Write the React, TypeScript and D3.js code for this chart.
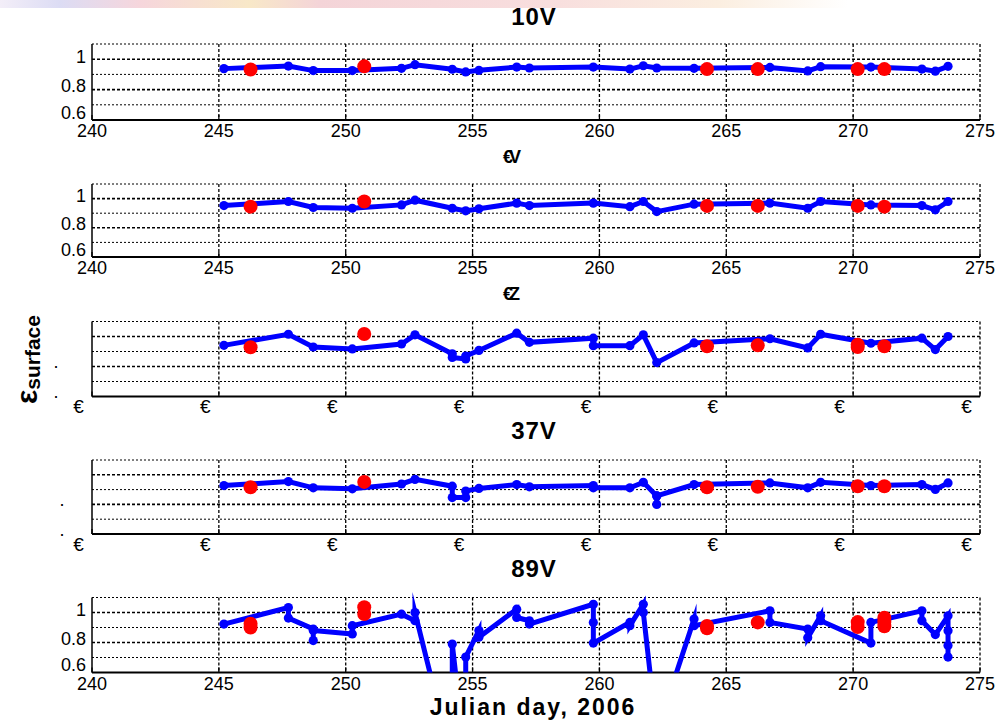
import { useEffect, useRef } from 'react';
import { scaleLinear, select, line } from 'd3';

const W = 998;
const H = 724;

// shared axes
const xTicks = [240, 245, 250, 255, 260, 265, 270, 275];
const yMajor = [0.6, 0.8, 1.0];
const yMinor = [0.7, 0.9, 1.1];
const yTickLabels = ['0.6', '0.8', '1'];

// 10V
const days10V = [245.2, 247.74, 248.72, 250.26, 252.2, 252.73, 254.2, 254.73, 255.25, 256.74, 257.24, 259.76, 261.2, 261.73, 262.26, 263.73, 266.72, 268.21, 268.72, 270.7, 272.71, 273.24, 273.74];
const vals10V = [0.938, 0.955, 0.925, 0.925, 0.94, 0.964, 0.934, 0.916, 0.927, 0.948, 0.942, 0.948, 0.935, 0.957, 0.942, 0.94, 0.946, 0.923, 0.951, 0.948, 0.935, 0.921, 0.953];
const redDays10V = [246.25, 250.73, 264.24, 266.24, 270.18, 271.23];
const redVals10V = [0.932, 0.953, 0.935, 0.935, 0.935, 0.935];

// second panel
const days2 = days10V;
const vals2 = [0.952, 0.98, 0.939, 0.934, 0.957, 0.989, 0.934, 0.916, 0.93, 0.969, 0.952, 0.969, 0.945, 0.98, 0.911, 0.962, 0.969, 0.934, 0.98, 0.957, 0.952, 0.923, 0.98];
const redDays2 = [246.25, 250.73, 264.24, 266.24, 270.18, 271.23];
const redVals2 = [0.945, 0.98, 0.95, 0.95, 0.95, 0.945];

// third panel
const days3 = [245.2, 247.74, 248.72, 250.26, 252.2, 252.73, 254.2, 254.2, 254.73, 254.73, 255.25, 256.74, 257.24, 259.76, 259.76, 261.2, 261.73, 262.26, 263.73, 266.72, 268.21, 268.72, 270.7, 272.71, 273.24, 273.74];
const vals3 = [0.941, 1.015, 0.93, 0.917, 0.95, 1.011, 0.885, 0.86, 0.85, 0.87, 0.907, 1.022, 0.961, 0.989, 0.939, 0.939, 1.011, 0.826, 0.957, 0.985, 0.924, 1.015, 0.955, 0.989, 0.913, 1.0];
const redDays3 = [246.25, 250.73, 264.24, 266.24, 270.18, 270.18, 271.23];
const redVals3 = [0.928, 1.017, 0.935, 0.941, 0.945, 0.93, 0.935];

// 37V
const days37V = [245.2, 247.74, 248.72, 250.26, 252.2, 252.73, 254.2, 254.2, 254.73, 254.73, 255.25, 256.74, 257.24, 259.76, 259.76, 261.2, 261.73, 262.26, 262.26, 262.26, 263.73, 266.72, 268.21, 268.72, 270.7, 272.71, 273.24, 273.74];
const vals37V = [0.927, 0.954, 0.912, 0.905, 0.938, 0.969, 0.923, 0.846, 0.846, 0.89, 0.908, 0.934, 0.919, 0.927, 0.912, 0.912, 0.949, 0.857, 0.8, 0.857, 0.934, 0.945, 0.912, 0.949, 0.927, 0.934, 0.901, 0.945];
const redDays37V = [246.25, 250.73, 264.24, 266.24, 270.18, 271.23];
const redVals37V = [0.916, 0.952, 0.916, 0.919, 0.923, 0.923];

// 89V
const days89V = [245.2, 247.74, 247.74, 248.72, 248.72, 248.72, 250.26, 250.26, 252.2, 252.73, 252.73, 254.2, 254.2, 254.73, 254.73, 255.25, 255.25, 256.74, 256.74, 257.24, 257.24, 259.76, 259.76, 259.76, 261.2, 261.2, 261.73, 261.73, 262.26, 263.73, 263.73, 266.72, 266.72, 268.21, 268.21, 268.72, 268.72, 270.7, 270.7, 272.71, 272.71, 273.24, 273.74, 273.74, 273.74, 273.74];
const vals89V = [0.923, 1.033, 0.963, 0.89, 0.813, 0.88, 0.857, 0.912, 0.989, 0.945, 1.0, 0.0, 0.79, 0.0, 0.703, 0.88, 0.835, 1.022, 0.967, 0.945, 0.923, 1.055, 0.934, 0.796, 0.934, 0.912, 1.055, 1.0, 0.2, 0.956, 0.912, 1.011, 0.934, 0.89, 0.831, 0.978, 0.945, 0.796, 0.934, 1.011, 0.945, 0.853, 0.978, 0.879, 0.78, 0.703];
const redDays89V = [246.25, 246.25, 250.73, 250.73, 264.24, 264.24, 266.24, 270.18, 270.18, 271.23, 271.23, 271.23];
const redVals89V = [0.925, 0.9, 1.035, 0.99, 0.91, 0.895, 0.934, 0.936, 0.903, 0.965, 0.936, 0.908];

const titles = ['10V', '€V', '€Z', '37V', '89V'];

const App = () => {
  const svgRef = useRef<SVGSVGElement>(null);

  useEffect(() => {
    const svg = select(svgRef.current);
    svg.selectAll('*').remove();
    const font = 'Liberation Sans, Arial, Helvetica, sans-serif';

    // faint coloured strip at the very top of the image
    const defs = svg.append('defs');
    const grad = defs.append('linearGradient').attr('id', 'topstrip');
    [['0', '#f3eef8'], ['0.06', '#dcdcf4'], ['0.14', '#f6d6dc'], ['0.25', '#f8e8c8'], ['0.32', '#f4d4d8'], ['0.55', '#f8dede'], ['0.72', '#fbeee0'], ['0.85', '#ffffff'], ['1', '#ffffff']]
      .forEach(([o, c]) => grad.append('stop').attr('offset', o).attr('stop-color', c));
    svg.append('rect').attr('x', 0).attr('y', 0).attr('width', W).attr('height', 8).attr('fill', 'url(#topstrip)');

    const x = scaleLinear().domain([240, 275]).range([92, 980]);

    const panels = [
      { top: 44, bottom: 120, days: days10V, vals: vals10V, rd: redDays10V, rv: redVals10V, numeric: true, dotX: 0 },
      { top: 184, bottom: 257, days: days2, vals: vals2, rd: redDays2, rv: redVals2, numeric: true, dotX: 0 },
      { top: 321.5, bottom: 396.5, days: days3, vals: vals3, rd: redDays3, rv: redVals3, numeric: false, dotX: 56 },
      { top: 460, bottom: 534, days: days37V, vals: vals37V, rd: redDays37V, rv: redVals37V, numeric: false, dotX: 62 },
      { top: 597.5, bottom: 672.5, days: days89V, vals: vals89V, rd: redDays89V, rv: redVals89V, numeric: true, dotX: 0 },
    ];
    // baseline offsets of the y tick labels (0.6 sits a little higher, like the original)
    const yLabelShift = [-1.5, 2.5, 3.5];

    panels.forEach((p, i) => {
      const y = scaleLinear().domain([0.6, 1.1]).range([p.bottom, p.top]);
      const g = svg.append('g');

      // grid
      g.selectAll('.minor').data(yMinor).enter().append('line')
        .attr('x1', x(240)).attr('x2', x(275)).attr('y1', d => y(d)).attr('y2', d => y(d))
        .attr('stroke', '#000').attr('stroke-width', 1).attr('stroke-dasharray', '2,2');
      g.selectAll('.major').data(yMajor.slice(1)).enter().append('line')
        .attr('x1', x(240)).attr('x2', x(275)).attr('y1', d => y(d)).attr('y2', d => y(d))
        .attr('stroke', '#000').attr('stroke-width', 1.6).attr('stroke-dasharray', '3,2');
      g.selectAll('.vgrid').data(xTicks.slice(1)).enter().append('line')
        .attr('x1', d => x(d)).attr('x2', d => x(d)).attr('y1', y(1.1)).attr('y2', y(0.6))
        .attr('stroke', '#000').attr('stroke-width', 1.3).attr('stroke-dasharray', '3,2');

      // axes
      g.append('line').attr('x1', x(240)).attr('x2', x(240)).attr('y1', y(1.1)).attr('y2', y(0.6))
        .attr('stroke', '#000').attr('stroke-width', 1.5);
      g.append('line').attr('x1', x(240)).attr('x2', x(275)).attr('y1', y(0.6)).attr('y2', y(0.6))
        .attr('stroke', '#000').attr('stroke-width', 2);
      g.selectAll('.xtick').data(xTicks).enter().append('line')
        .attr('x1', d => x(d)).attr('x2', d => x(d)).attr('y1', y(0.6)).attr('y2', y(0.6) - 5)
        .attr('stroke', '#000').attr('stroke-width', 1.3);

      // tick labels
      if (p.numeric) {
        g.selectAll('.xl').data(xTicks).enter().append('text')
          .attr('x', d => x(d)).attr('y', p.bottom + 17)
          .attr('text-anchor', 'middle').attr('font-family', font).attr('font-size', 18)
          .text(d => String(d));
        g.selectAll('.yl').data(yMajor).enter().append('text')
          .attr('x', 86).attr('y', (d, j) => y(d) + yLabelShift[j])
          .attr('text-anchor', 'end').attr('font-family', font).attr('font-size', 18)
          .text((d, j) => yTickLabels[j]);
      } else {
        g.selectAll('.xl').data(xTicks).enter().append('text')
          .attr('x', d => x(d) - 13.5).attr('y', p.bottom + 16.5)
          .attr('text-anchor', 'middle').attr('font-family', font).attr('font-size', 19)
          .text('€');
        g.selectAll('.yl').data([0.8, 0.6]).enter().append('text')
          .attr('x', p.dotX).attr('y', d => y(d) + 1.5)
          .attr('text-anchor', 'middle').attr('font-family', font).attr('font-size', 18)
          .text('.');
      }

      // data
      const clipId = `clip${i}`;
      defs.append('clipPath').attr('id', clipId).append('rect')
        .attr('x', x(240)).attr('y', p.top - 16).attr('width', x(275) - x(240)).attr('height', p.bottom - p.top + 16);

      const pts = p.days.map((d, j) => [d, p.vals[j]] as [number, number]);
      const path = line<[number, number]>().x(d => x(d[0])).y(d => y(d[1]));
      g.append('path').attr('d', path(pts)).attr('clip-path', `url(#${clipId})`)
        .attr('fill', 'none').attr('stroke', '#0000ff').attr('stroke-width', 5)
        .attr('stroke-linejoin', 'miter').attr('stroke-miterlimit', 10);
      g.selectAll('.bm').data(pts.filter(d => d[1] >= 0.6 && d[1] <= 1.1)).enter().append('circle')
        .attr('cx', d => x(d[0])).attr('cy', d => y(d[1])).attr('r', 4.6).attr('fill', '#0000ff');

      g.selectAll('.rm').data(p.rd.map((d, j) => [d, p.rv[j]])).enter().append('circle')
        .attr('cx', d => x(d[0])).attr('cy', d => y(d[1])).attr('r', 7).attr('fill', '#ff0000');
    });

    // titles (panels 2 and 3 carry the garbled glyphs of the original figure)
    const titleY = [25, 163, 300, 439, 577];
    titles.forEach((t, i) => {
      const garbled = t.startsWith('€');
      svg.append('text')
        .attr('x', garbled ? 503 : 534).attr('y', titleY[i])
        .attr('text-anchor', garbled ? 'start' : 'middle')
        .attr('font-family', font).attr('font-size', garbled ? 18 : 24).attr('font-weight', 'bold')
        .attr('letter-spacing', garbled ? -4 : 1).text(t);
    });

    // axis labels
    const yl = svg.append('text').attr('transform', 'translate(37,404) rotate(-90)')
      .attr('font-family', font).attr('font-weight', 'bold');
    yl.append('tspan').attr('font-size', 30).text('ε');
    yl.append('tspan').attr('font-size', 21).attr('dy', 3).text('surface');

    svg.append('text').attr('x', 533).attr('y', 715).attr('text-anchor', 'middle')
      .attr('font-family', font).attr('font-size', 23).attr('font-weight', 'bold')
      .attr('letter-spacing', 2).text('Julian day, 2006');
  }, []);

  return (
    <svg ref={svgRef} width={W} height={H}
      style={{ position: 'absolute', left: 0, top: 0, background: '#fff' }} />
  );
};

export default App;
